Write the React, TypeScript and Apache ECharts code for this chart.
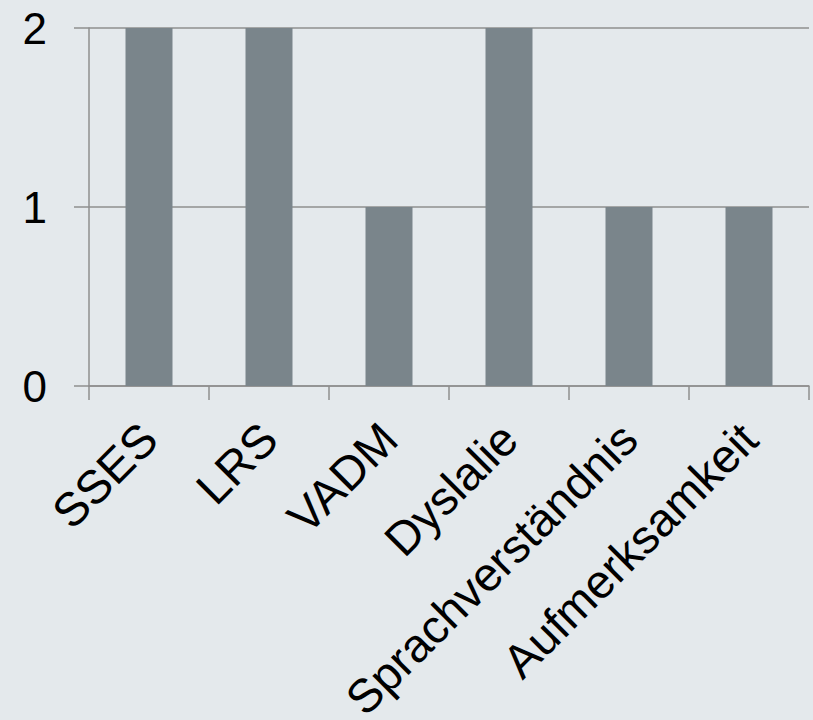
import React, { useEffect, useRef } from "react";
import * as echarts from "echarts";

const categories = ["SSES", "LRS", "VADM", "Dyslalie", "Sprachverständnis", "Aufmerksamkeit"];
const values = [2, 2, 1, 2, 1, 1];
const yTicks = [0, 1, 2];

export default function App() {
  const ref = useRef<HTMLDivElement>(null);
  useEffect(() => {
    if (!ref.current) return;
    const chart = echarts.init(ref.current, null, { renderer: "svg" });
    const lineColor = "#8f8f8f";
    chart.setOption({
      animation: false,
      backgroundColor: "#e4e9ec",
      grid: { left: 89, right: 4, top: 28, bottom: 334, containLabel: false, outerBoundsMode: "none" },
      xAxis: {
        type: "category",
        data: categories,
        boundaryGap: true,
        axisLine: { show: true, lineStyle: { color: lineColor, width: 1.5 } },
        axisTick: { show: true, length: 14, alignWithLabel: false, lineStyle: { color: lineColor, width: 1.5 } },
        axisLabel: {
          rotate: 45,
          interval: 0,
          margin: 45,
          fontSize: 47,
          fontFamily: "Liberation Sans, Arial, sans-serif",
          color: "#000000",
        },
      },
      yAxis: {
        type: "value",
        min: yTicks[0],
        max: yTicks[yTicks.length - 1],
        interval: 1,
        axisLine: { show: true, lineStyle: { color: lineColor, width: 1.5 } },
        axisTick: { show: true, length: 15, lineStyle: { color: lineColor, width: 1.5 } },
        splitLine: { show: true, lineStyle: { color: lineColor, width: 1.5 } },
        axisLabel: {
          margin: 42,
          fontSize: 44,
          fontFamily: "Liberation Sans, Arial, sans-serif",
          color: "#000000",
        },
      },
      series: [
        {
          type: "bar",
          data: values,
          barWidth: 47,
          itemStyle: { color: "#7a858b" },
        },
      ],
    });
    return () => chart.dispose();
  }, []);
  return <div ref={ref} style={{ width: 813, height: 720, position: "absolute", left: 0, top: 0 }} />;
}
